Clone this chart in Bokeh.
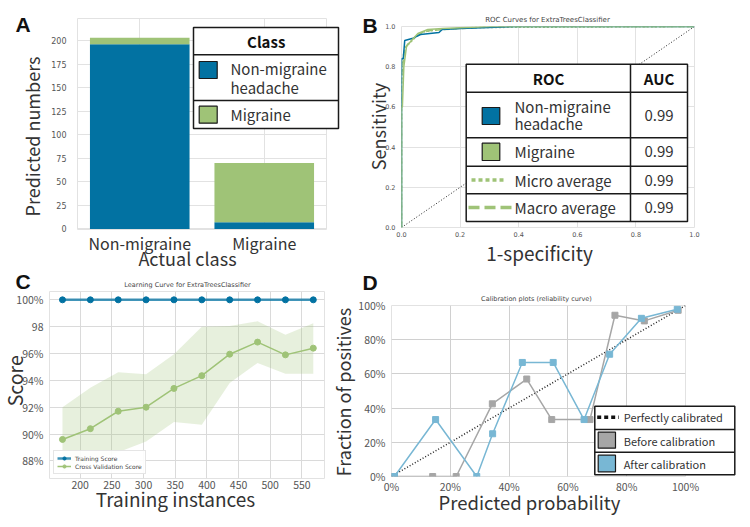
from bokeh.plotting import figure
from bokeh.models import (FactorRange, Range1d, FixedTicker, NumeralTickFormatter, Label,
                          Legend, LegendItem, ColumnDataSource)
from bokeh.embed import file_html
from bokeh.resources import INLINE

# ---------------- data ----------------
classes = ["Non-migraine", "Migraine"]
pred_nonmigraine = [196, 7]
pred_migraine = [7, 63]

roc_nonmig_fpr = [0.0, 0.0, 0.006, 0.011, 0.036, 0.065, 0.128, 0.139, 0.2, 0.4, 1.0]
roc_nonmig_tpr = [0.0, 0.84, 0.84, 0.93, 0.94, 0.96, 0.97, 0.985, 0.99, 1.0, 1.0]
roc_mig_fpr = [0.0, 0.0, 0.003, 0.008, 0.017, 0.034, 0.056, 0.09, 0.14, 0.3, 1.0]
roc_mig_tpr = [0.0, 0.6, 0.6, 0.8, 0.9, 0.93, 0.965, 0.985, 0.99, 1.0, 1.0]
roc_micro_fpr = [0.0, 0.0, 0.005, 0.015, 0.03, 0.05, 0.08, 0.13, 0.25, 1.0]
roc_micro_tpr = [0.0, 0.7, 0.85, 0.9, 0.92, 0.95, 0.975, 0.985, 0.995, 1.0]
roc_macro_fpr = [0.0, 0.0, 0.01, 0.02, 0.04, 0.07, 0.1, 0.2, 0.35, 1.0]
roc_macro_tpr = [0.0, 0.75, 0.88, 0.91, 0.94, 0.97, 0.98, 0.99, 1.0, 1.0]
auc_labels = ["0.99", "0.99", "0.99", "0.99"]

train_sizes = [172, 216, 260, 304, 348, 392, 436, 480, 524, 568]
train_score = [100.0, 100.0, 100.0, 100.0, 100.0, 100.0, 100.0, 100.0, 100.0, 100.0]
cv_score = [89.6, 90.4, 91.7, 92.0, 93.4, 94.35, 95.95, 96.85, 95.9, 96.4]
cv_upper = [92.0, 93.45, 94.6, 94.45, 95.95, 98.0, 98.05, 98.4, 97.4, 98.25]
cv_lower = [87.2, 88.0, 88.65, 89.45, 90.9, 90.7, 93.8, 95.3, 94.5, 94.5]
score_ticks = [88, 90, 92, 94, 96, 98, 100]
score_tick_labels = ["88%", "90%", "92%", "94%", "96%", "98", "100%"]

before_x = [0.01, 0.14, 0.22, 0.343, 0.46, 0.545, 0.675, 0.76, 0.86, 0.975]
before_y = [0.0, 0.0, 0.0, 0.425, 0.57, 0.333, 0.333, 0.943, 0.91, 0.972]
after_x = [0.01, 0.15, 0.29, 0.344, 0.445, 0.55, 0.655, 0.742, 0.85, 0.972]
after_y = [0.0, 0.333, 0.0, 0.25, 0.667, 0.667, 0.333, 0.715, 0.925, 0.978]

# ---------------- style ----------------
BLUE = "#0272a2"
GREEN = "#9fc377"
CAL_BLUE = "#78b7d4"
CAL_GRAY = "#a6a6a6"
CJK = "Noto Sans CJK JP"
SMALL = "DejaVu Sans"
GRID = "#e2e2e2"
TXT = "#333333"
EDGE = "#1a1a1a"
PAGE_W, PAGE_H = 742, 519


def base(pos, width, height, left, right, top, bottom, **kw):
    p = figure(width=width, height=height, output_backend="svg", toolbar_location=None,
               min_border_left=left, min_border_right=right, min_border_top=top,
               min_border_bottom=bottom,
               styles={"position": "absolute", "left": f"{pos[0]}px", "top": f"{pos[1]}px"},
               **kw)
    p.outline_line_color = GRID
    p.background_fill_color = "white"
    p.border_fill_color = None
    for ax in p.axis:
        ax.axis_line_color = None
        ax.major_tick_line_color = None
        ax.minor_tick_line_color = None
        ax.major_tick_out = 0
        ax.major_tick_in = 0
        ax.minor_tick_out = 0
    p.grid.grid_line_color = GRID
    return p


# ---------------- Panel A ----------------
pA = base((0, 0), 355, 266, 77, 29, 18, 37,
          x_range=FactorRange(factors=classes, range_padding=0),
          y_range=Range1d(-0.6, 223.3))
srcA = ColumnDataSource(dict(cls=classes, nonmig=pred_nonmigraine, mig=pred_migraine))
pA.vbar_stack(["nonmig", "mig"], x="cls", width=0.8, color=[BLUE, GREEN], line_color=None,
              source=srcA)
pA.yaxis.ticker = FixedTicker(ticks=[0, 25, 50, 75, 100, 125, 150, 175, 200])
pA.yaxis.major_label_text_font = SMALL
pA.yaxis.major_label_text_font_size = "8px"
pA.yaxis.major_label_text_color = "#555555"
pA.yaxis.major_label_standoff = 11
pA.xaxis.major_label_text_font = CJK
pA.xaxis.major_label_text_font_size = "16px"
pA.xaxis.major_label_text_color = TXT
pA.xaxis.major_label_standoff = 1

# ---------------- Panel B ----------------
pB = base((355, 0), 387, 266, 46, 48, 26, 39, x_range=Range1d(0, 1), y_range=Range1d(0, 1))
for ax in (pB.xaxis, pB.yaxis):
    ax.ticker = FixedTicker(ticks=[0, 0.2, 0.4, 0.6, 0.8, 1.0])
    ax.formatter = NumeralTickFormatter(format="0.0")
    ax.major_label_text_font = SMALL
    ax.major_label_text_font_size = "6.5px"
    ax.major_label_text_color = "#555555"
pB.yaxis.major_label_standoff = 6
pB.xaxis.major_label_standoff = 4
pB.line([0, 1], [0, 1], line_color="#222222", line_dash="1 2", line_width=1)
pB.line(roc_macro_fpr, roc_macro_tpr, line_color=GREEN, line_width=1.5, line_dash="6 3")
pB.line(roc_micro_fpr, roc_micro_tpr, line_color=GREEN, line_width=1.5, line_dash="2 2")
pB.line(roc_nonmig_fpr, roc_nonmig_tpr, line_color=BLUE, line_width=1.5)
pB.line(roc_mig_fpr, roc_mig_tpr, line_color=GREEN, line_width=1.5)

# ---------------- Panel C ----------------
pC = base((0, 266), 355, 253, 49, 31, 25, 41, x_range=Range1d(151.5, 585.7),
          y_range=Range1d(86.69, 100.62))
pC.grid.grid_line_color = "#dadada"
pC.yaxis.ticker = FixedTicker(ticks=score_ticks)
pC.yaxis.major_label_overrides = {t: s for t, s in zip(score_ticks, score_tick_labels)}
pC.xaxis.ticker = FixedTicker(ticks=[200, 250, 300, 350, 400, 450, 500, 550])
for ax in (pC.xaxis, pC.yaxis):
    ax.major_label_text_font = CJK
    ax.major_label_text_font_size = "10.5px"
    ax.major_label_text_color = "#555555"
pC.yaxis.major_label_standoff = 6
pC.xaxis.major_label_standoff = 2
srcC = ColumnDataSource(dict(n=train_sizes, tr=train_score, cv=cv_score, lo=cv_lower, hi=cv_upper))
pC.varea(x="n", y1="lo", y2="hi", source=srcC, fill_color=GREEN, fill_alpha=0.25)
tl = pC.line("n", "tr", source=srcC, line_color=BLUE, line_width=2.5, line_alpha=0.75)
tm = pC.scatter("n", "tr", source=srcC, size=6, color=BLUE)
cl = pC.line("n", "cv", source=srcC, line_color=GREEN, line_width=1.5)
cm = pC.scatter("n", "cv", source=srcC, size=6, color=GREEN)
legC = Legend(items=[LegendItem(label="Training Score", renderers=[tl, tm]),
                     LegendItem(label="Cross Validation Score", renderers=[cl, cm])],
              location="bottom_left", label_text_font=SMALL, label_text_font_size="6px",
              label_text_color="#444444", glyph_width=14, glyph_height=8, label_height=8,
              spacing=0, padding=3, margin=4, label_standoff=4,
              border_line_color="#cccccc", background_fill_alpha=0.9)
pC.add_layout(legC)

# ---------------- Panel D ----------------
pD = base((355, 266), 387, 253, 33, 57, 39, 43, x_range=Range1d(0, 1), y_range=Range1d(0, 1))
pD.grid.grid_line_color = "#d0d0d0"
for ax in (pD.xaxis, pD.yaxis):
    ax.ticker = FixedTicker(ticks=[0, 0.2, 0.4, 0.6, 0.8, 1.0])
    ax.formatter = NumeralTickFormatter(format="0%")
    ax.major_label_text_font = CJK
    ax.major_label_text_font_size = "10.5px"
    ax.major_label_text_color = "#555555"
pD.yaxis.major_label_standoff = 6
pD.xaxis.major_label_standoff = 2
pD.line([0, 1], [0, 1], line_color="#222222", line_dash="1 2", line_width=1.5)
pD.line(before_x, before_y, line_color=CAL_GRAY, line_width=1.5)
pD.scatter(before_x, before_y, marker="square", size=6, color=CAL_GRAY)
pD.line(after_x, after_y, line_color=CAL_BLUE, line_width=1.5)
pD.scatter(after_x, after_y, marker="square", size=6, color=CAL_BLUE)

# ---------------- overlay (page coordinates) for titles, axis labels, letters, legends ----
ov = figure(width=PAGE_W, height=PAGE_H, output_backend="svg", toolbar_location=None,
            x_range=Range1d(0, PAGE_W), y_range=Range1d(PAGE_H, 0), min_border=0,
            x_axis_type=None, y_axis_type=None,
            styles={"position": "absolute", "left": "0px", "top": "0px"})
ov.background_fill_color = None
ov.border_fill_color = None
ov.outline_line_color = None


def txt(x, y, s, size, align="left", baseline="middle", bold=False, font=CJK, color=TXT, angle=0):
    ov.add_layout(Label(x=x, y=y, text=s, text_font=font, text_font_size=f"{size}px",
                        text_align=align, text_baseline=baseline, text_color=color,
                        text_font_style="bold" if bold else "normal", angle=angle,
                        angle_units="deg"))


def box(x0, y0, x1, y1, fill="white", lw=1.5):
    ov.quad(left=[x0], right=[x1], top=[y0], bottom=[y1], fill_color=fill, line_color=EDGE,
            line_width=lw)


def seg(x0, y0, x1, y1, color=EDGE, lw=1.5, dash="solid"):
    ov.segment(x0=[x0], y0=[y0], x1=[x1], y1=[y1], line_color=color, line_width=lw,
               line_dash=dash)


# letters
for x, y, s in [(15, 24.2, "A"), (362, 25, "B"), (15, 281, "C"), (362, 281.5, "D")]:
    txt(x, y, s, 21, bold=True, font="Liberation Sans", color="#111111")

# titles
txt(547, 19, "ROC Curves for ExtraTreesClassifier", 7, align="center", font=SMALL, color="#444444")
txt(187, 284.3, "Learning Curve for ExtraTreesClassifier", 6.5, align="center", font=SMALL,
    color="#444444")
txt(536, 298.3, "Calibration plots (reliability curve)", 6.5, align="center", font=SMALL,
    color="#444444")

# axis labels
txt(31.4, 136, "Predicted numbers", 18, align="center", angle=90)
txt(187, 257.5, "Actual class", 18, align="center")
txt(377, 126, "Sensitivity", 18, align="center", angle=90)
txt(539, 252, "1-specificity", 19, align="center")
txt(14, 380.3, "Score", 19.5, align="center", angle=90)
txt(175, 498.4, "Training instances", 19, align="center")
txt(342.4, 391.5, "Fraction of positives", 18, align="center", angle=90)
txt(529, 501.4, "Predicted probability", 18.5, align="center")

# legend A
box(193, 27, 338, 128)
seg(193, 54.3, 338, 54.3)
seg(193, 100, 338, 100)
txt(265.7, 40.5, "Class", 15, align="center", bold=True, color="#111111")
box(198.7, 61, 216.7, 78, fill=BLUE, lw=1.2)
box(198.7, 105.7, 216.7, 122.7, fill=GREEN, lw=1.2)
txt(230, 68.3, "Non-migraine", 15)
txt(230, 86.7, "headache", 15)
txt(230, 114.3, "Migraine", 15)

# legend B
box(465.7, 63.7, 687, 221)
seg(630, 63.7, 630, 221)
for yy in (91.7, 137.3, 165.7, 193.3):
    seg(465.7, yy, 687, yy)
txt(548, 77.5, "ROC", 15, align="center", bold=True, color="#111111")
txt(658.5, 77.5, "AUC", 15, align="center", bold=True, color="#111111")
box(481.7, 107, 499.3, 124, fill=BLUE, lw=1.2)
box(481.7, 142.7, 499.3, 160, fill=GREEN, lw=1.2)
seg(471, 179.5, 506, 179.5, color=GREEN, lw=3.5, dash="4 3")
seg(468, 207, 511, 207, color=GREEN, lw=3.5, dash="11 5")
txt(514, 105.5, "Non-migraine", 15)
txt(514, 123.3, "headache", 15)
txt(514, 151.3, "Migraine", 15)
txt(514, 179.5, "Micro average", 15)
txt(514, 207, "Macro average", 15)
for yy, s in zip((114.5, 151.3, 179.5, 207), auc_labels):
    txt(658.5, yy, s, 15, align="center")

# legend D
box(594.3, 405.7, 734.3, 474.3)
seg(594.3, 429, 734.3, 429)
seg(594.3, 451.7, 734.3, 451.7)
seg(596.7, 416.7, 618.3, 416.7, color="#111111", lw=3.5, dash="4 3")
box(597.7, 431.7, 615, 447.7, fill=CAL_GRAY, lw=1.2)
box(597.7, 454.7, 615, 471.3, fill=CAL_BLUE, lw=1.2)
txt(623.3, 416.7, "Perfectly calibrated", 11)
txt(623.3, 440.3, "Before calibration", 11)
txt(623.3, 463, "After calibration", 11)

open("out.html", "w").write(file_html([pA, pB, pC, pD, ov], INLINE))
